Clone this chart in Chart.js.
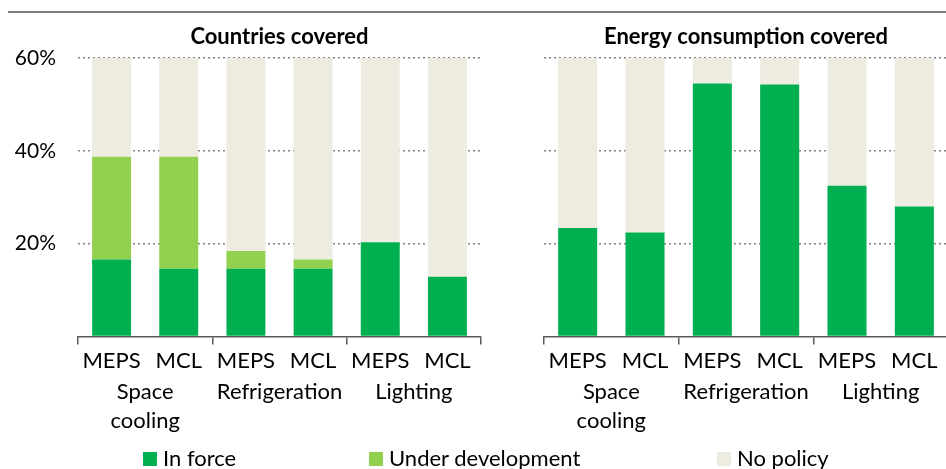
<!DOCTYPE html>
<html>
<head>
<meta charset="utf-8">
<script src="https://cdn.jsdelivr.net/npm/chart.js@4"></script>
<style>
  html, body { margin: 0; padding: 0; width: 946px; height: 469px; overflow: hidden; background: #fff; font-family: Lato, "Open Sans", sans-serif; }
  #topLine { position: absolute; left: 8px; top: 11px; width: 938px; height: 2px; background: #7f7f7f; }
  .panel { position: absolute; top: 0; height: 469px; }
  #leftPanel { left: 0; width: 483px; }
  #rightPanel { left: 466px; width: 484px; }
  .legend-item { position: absolute; top: 446px; font-size: 22px; color: #000; line-height: 24px; white-space: nowrap; }
  .legend-item span { display: inline-block; width: 14px; height: 14px; margin-right: 6px; vertical-align: 0px; }
</style>
</head>
<body>
<div id="topLine"></div>
<div class="panel" id="leftPanel"><canvas id="countriesChart"></canvas></div>
<div class="panel" id="rightPanel"><canvas id="energyChart"></canvas></div>
<div class="legend-item" style="left:143px"><span style="background:#00B050"></span>In force</div>
<div class="legend-item" style="left:369px"><span style="background:#92D050"></span>Under development</div>
<div class="legend-item" style="left:717px"><span style="background:#EEECE1"></span>No policy</div>

<script>
const categories = ["MEPS", "MCL", "MEPS", "MCL", "MEPS", "MCL"];
const groups = [["Space", "cooling"], "Refrigeration", "Lighting"];
const yTicks = [0, 20, 40, 60];

// Countries covered (%), visible part of each stack up to 60%
const countriesInForce = [16.6, 14.6, 14.6, 14.6, 20.3, 12.9];
const countriesUnderDev = [22.1, 24.1, 3.8, 2.0, 0, 0];
const countriesNoPolicy = [21.3, 21.3, 41.6, 43.4, 39.7, 47.1];

// Energy consumption covered (%)
const energyInForce = [23.4, 22.4, 54.5, 54.3, 32.5, 28.0];
const energyUnderDev = [0, 0, 0, 0, 0, 0];
const energyNoPolicy = [36.6, 37.6, 5.5, 5.7, 27.5, 32.0];

const COLORS = { inForce: "#00B050", underDev: "#92D050", noPolicy: "#EEECE1" };

const panelTitle = {
    id: "panelTitle",
    afterDraw(chart, args, opts) {
        const { ctx, chartArea } = chart;
        ctx.save();
        ctx.font = "bold 22px Lato, 'Open Sans', sans-serif";
        ctx.fillStyle = "#000";
        ctx.textAlign = "center";
        ctx.textBaseline = "middle";
        ctx.fillText(opts.text, (chartArea.left + chartArea.right) / 2, 37);
        ctx.restore();
    }
};

function makeChart(canvasId, title, inForce, underDev, noPolicy, showYLabels) {
    const ctx = document.getElementById(canvasId);
    return new Chart(ctx, {
        type: "bar",
        data: {
            labels: categories,
            datasets: [
                { label: "In force", data: inForce, backgroundColor: COLORS.inForce },
                { label: "Under development", data: underDev, backgroundColor: COLORS.underDev },
                { label: "No policy", data: noPolicy, backgroundColor: COLORS.noPolicy }
            ]
        },
        options: {
            responsive: true,
            maintainAspectRatio: false,
            animation: false,
            events: [],
            barPercentage: 0.58,
            categoryPercentage: 1,
            layout: { padding: { top: 58, right: 2, bottom: 34, left: 0 } },
            plugins: {
                legend: { display: false },
                tooltip: { enabled: false },
                panelTitle: { text: title }
            },
            scales: {
                x: {
                    stacked: true,
                    weight: 0,
                    grid: {
                        offset: true,
                        drawOnChartArea: false,
                        tickLength: 8,
                        lineWidth: 1.5,
                        color: c => (c.index === undefined || c.index % 2 === 0) ? "#595959" : "transparent"
                    },
                    border: { display: true, color: "#595959", width: 1.5 },
                    ticks: { color: "#000", padding: 3, font: { size: 22, family: "Lato" } }
                },
                x2: {
                    type: "category",
                    labels: groups,
                    position: "bottom",
                    weight: 1,
                    grid: { display: false, drawTicks: false, tickLength: 0 },
                    border: { display: false },
                    ticks: { color: "#000", padding: 0, font: { size: 22, family: "Lato", lineHeight: 1.32 } }
                },
                y: {
                    stacked: true,
                    min: yTicks[0],
                    max: yTicks[yTicks.length - 1],
                    afterBuildTicks: s => { s.ticks = yTicks.map(v => ({ value: v })); },
                    afterFit: s => { s.width = 78; },
                    grid: {
                        drawTicks: false,
                        lineWidth: 1.5,
                        color: c => c.tick && c.tick.value === 0 ? "transparent" : "#808080"
                    },
                    border: { display: false, dash: [2, 3] },
                    ticks: {
                        display: showYLabels,
                        padding: 22,
                        color: "#000",
                        font: { size: 21, family: "Lato" },
                        callback: v => v === 0 ? "" : v + "%"
                    }
                }
            }
        },
        plugins: [panelTitle]
    });
}

makeChart("countriesChart", "Countries covered", countriesInForce, countriesUnderDev, countriesNoPolicy, true);
makeChart("energyChart", "Energy consumption covered", energyInForce, energyUnderDev, energyNoPolicy, false);
</script>
</body>
</html>
